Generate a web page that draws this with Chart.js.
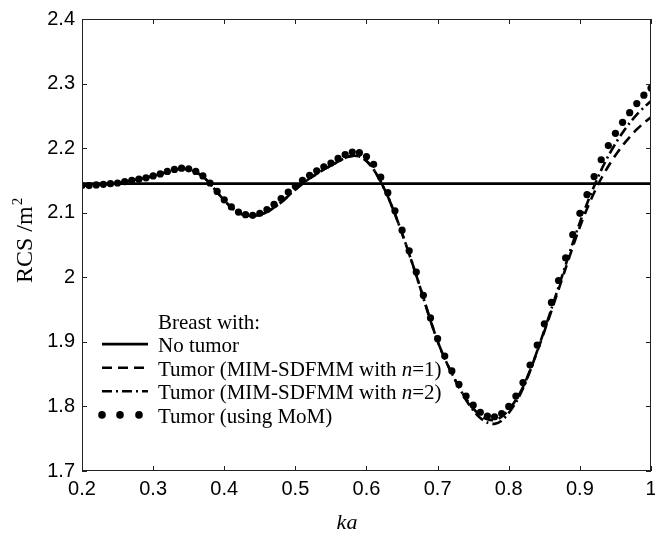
<!DOCTYPE html>
<html><head><meta charset="utf-8">
<script src="https://cdn.jsdelivr.net/npm/chart.js@4/dist/chart.umd.min.js"></script>
<style>html,body{margin:0;padding:0;background:#fff}#wrap{width:655px;height:533px;position:relative}</style>
</head><body><div id="wrap"><canvas id="c"></canvas></div>
<script>
const ka = [0.20,0.21,0.22,0.23,0.24,0.25,0.26,0.27,0.28,0.29,0.30,0.31,0.32,0.33,0.34,0.35,0.36,0.37,0.38,0.39,
0.40,0.41,0.42,0.43,0.44,0.45,0.46,0.47,0.48,0.49,0.50,0.51,0.52,0.53,0.54,0.55,0.56,0.57,0.58,0.59,
0.60,0.61,0.62,0.63,0.64,0.65,0.66,0.67,0.68,0.69,0.70,0.71,0.72,0.73,0.74,0.75,0.76,0.77,0.78,0.79,
0.80,0.81,0.82,0.83,0.84,0.85,0.86,0.87,0.88,0.89,0.90,0.91,0.92,0.93,0.94,0.95,0.96,0.97,0.98,0.99,1.00];
const kaEnds = [0.2, 1.0];
const rcsNoTumor = [2.145, 2.145];
const rcsMoM = [2.142,2.142,2.143,2.144,2.145,2.146,2.148,2.150,2.152,2.154,2.157,2.160,2.164,2.167,2.169,2.168,2.164,2.157,2.146,2.133,
2.120,2.109,2.101,2.097,2.096,2.099,2.105,2.113,2.122,2.132,2.141,2.150,2.158,2.165,2.171,2.177,2.184,2.190,2.194,2.193,
2.187,2.175,2.155,2.131,2.103,2.073,2.041,2.008,1.972,1.937,1.905,1.878,1.855,1.834,1.816,1.802,1.791,1.785,1.784,1.789,
1.800,1.816,1.837,1.864,1.895,1.928,1.961,1.995,2.030,2.066,2.099,2.128,2.156,2.182,2.204,2.223,2.240,2.255,2.269,2.282,2.293];
const rcsN1 = [2.142,2.142,2.143,2.144,2.145,2.146,2.148,2.150,2.152,2.154,2.157,2.160,2.163,2.166,2.168,2.167,2.163,2.156,2.145,2.132,
2.119,2.108,2.100,2.096,2.095,2.097,2.101,2.108,2.116,2.126,2.136,2.145,2.153,2.160,2.167,2.173,2.179,2.185,2.188,2.187,
2.180,2.167,2.148,2.125,2.098,2.068,2.036,2.003,1.968,1.933,1.901,1.874,1.851,1.830,1.812,1.797,1.786,1.780,1.779,1.784,
1.795,1.810,1.830,1.856,1.885,1.916,1.948,1.981,2.014,2.047,2.078,2.106,2.131,2.153,2.172,2.189,2.204,2.217,2.229,2.239,2.248];
const rcsN2 = [2.142,2.142,2.143,2.144,2.145,2.146,2.148,2.150,2.152,2.154,2.157,2.160,2.163,2.166,2.168,2.167,2.163,2.156,2.145,2.132,
2.119,2.108,2.100,2.096,2.095,2.097,2.101,2.108,2.116,2.126,2.136,2.145,2.153,2.160,2.167,2.173,2.179,2.185,2.188,2.187,
2.180,2.167,2.148,2.125,2.098,2.068,2.036,2.003,1.968,1.933,1.901,1.874,1.851,1.830,1.810,1.794,1.782,1.775,1.773,1.778,
1.790,1.806,1.828,1.855,1.886,1.918,1.951,1.985,2.019,2.053,2.085,2.114,2.141,2.166,2.188,2.207,2.224,2.239,2.252,2.263,2.273];
const xTicks = [0.2,0.3,0.4,0.5,0.6,0.7,0.8,0.9,1.0];
const yTicks = [1.7,1.8,1.9,2.0,2.1,2.2,2.3,2.4];
const legendTitle = "Breast with:";
const legendLabels = ["No tumor", "Tumor (MIM-SDFMM with |n|=1)", "Tumor (MIM-SDFMM with |n|=2)", "Tumor (using MoM)"];
const xTitle = "ka";
const yTitle = "RCS /m";
const yTitleSup = "2";

const pts = (xs, ys) => xs.map((x, i) => ({x: x, y: ys[i]}));
const fmt = v => String(Number(v.toFixed(1)));
const DASH = [10, 6];
const DASHDOT = [10, 4, 2, 4];

const boxPlugin = {
  id: 'box',
  afterDraw(chart) {
    const ctx = chart.ctx, a = chart.chartArea;
    const xs = chart.scales.x, ys = chart.scales.y;
    ctx.save();
    ctx.strokeStyle = '#222'; ctx.lineWidth = 1;
    ctx.strokeRect(a.left + 0.5, a.top + 0.5, a.right - a.left - 1, a.bottom - a.top - 1);
    ctx.beginPath();
    const tl = 5;
    xTicks.forEach(v => {
      const p = Math.round(xs.getPixelForValue(v)) + 0.5;
      ctx.moveTo(p, a.bottom); ctx.lineTo(p, a.bottom - tl);
      ctx.moveTo(p, a.top); ctx.lineTo(p, a.top + tl);
    });
    yTicks.forEach(v => {
      const p = Math.round(ys.getPixelForValue(v)) + 0.5;
      ctx.moveTo(a.left, p); ctx.lineTo(a.left + tl, p);
      ctx.moveTo(a.right, p); ctx.lineTo(a.right - tl, p);
    });
    ctx.stroke();

    // legend
    const lx0 = 102, lx1 = 148, tx = 158, row0 = 320.5, dy = 23.6;
    ctx.fillStyle = '#000'; ctx.strokeStyle = '#000';
    ctx.textBaseline = 'alphabetic'; ctx.textAlign = 'left';
    const serif = '"Liberation Serif", "Times New Roman", serif';
    ctx.font = '21px ' + serif;
    ctx.fillText(legendTitle, tx, row0 + 8);
    const styles = [[], DASH, DASHDOT, null];
    legendLabels.forEach((lab, i) => {
      const y = row0 + dy * (i + 1);
      if (styles[i] === null) {
        [lx0, (lx0 + lx1) / 2 - 5, lx1 - 9].forEach(cx => {
          ctx.beginPath(); ctx.arc(cx, y, 3.8, 0, Math.PI * 2); ctx.fill();
        });
      } else {
        ctx.beginPath(); ctx.lineWidth = 2.6; ctx.setLineDash(styles[i]);
        ctx.moveTo(lx0, y); ctx.lineTo(lx1, y); ctx.stroke(); ctx.setLineDash([]);
      }
      const parts = lab.split('|');
      let x = tx;
      parts.forEach((part, j) => {
        ctx.font = (j === 1 ? 'italic ' : '') + '21px ' + serif;
        ctx.fillText(part, x, y + 8);
        x += ctx.measureText(part).width;
      });
    });

    // axis titles
    ctx.font = 'italic 22px ' + serif;
    ctx.textAlign = 'center';
    ctx.fillText(xTitle, 347, 529);
    ctx.save();
    ctx.translate(32, 283);
    ctx.rotate(-Math.PI / 2);
    ctx.textAlign = 'left';
    ctx.font = '24px ' + serif;
    ctx.fillText(yTitle, 0, 0);
    const w = ctx.measureText(yTitle).width;
    ctx.font = '15px ' + serif;
    ctx.fillText(yTitleSup, w + 1, -10);
    ctx.restore();
    ctx.restore();
  }
};

new Chart(document.getElementById('c'), {
  type: 'line',
  data: {
    datasets: [
      {label: 'No tumor', data: pts(kaEnds, rcsNoTumor), borderColor: '#000', borderWidth: 2.6, pointRadius: 0, order: 4},
      {label: 'n1', data: pts(ka, rcsN1), borderColor: '#000', borderWidth: 2.6, borderDash: DASH, pointRadius: 0, tension: 0.3, order: 3},
      {label: 'n2', data: pts(ka, rcsN2), borderColor: '#000', borderWidth: 2.6, borderDash: DASHDOT, pointRadius: 0, tension: 0.3, order: 2},
      {label: 'MoM', data: pts(ka, rcsMoM), showLine: false, pointRadius: 3.6, pointBackgroundColor: '#000', pointBorderColor: '#000', pointBorderWidth: 0, order: 1}
    ]
  },
  options: {
    responsive: true, maintainAspectRatio: false, animation: false, devicePixelRatio: 1,
    layout: {padding: {top: 19, right: 1, left: 0, bottom: 0}},
    plugins: {legend: {display: false}, tooltip: {enabled: false}},
    scales: {
      x: {
        type: 'linear', min: 0.2, max: 1.0,
        grid: {display: false, drawTicks: false},
        border: {display: false},
        afterBuildTicks: s => { s.ticks = xTicks.map(v => ({value: v})); },
        afterFit: s => { s.height = 62; s.paddingLeft = 0; s.paddingRight = 0; },
        ticks: {padding: 6, color: '#000', font: {family: '"Liberation Sans", Arial, sans-serif', size: 20}, callback: v => fmt(v), maxRotation: 0, autoSkip: false}
      },
      y: {
        type: 'linear', min: 1.7, max: 2.4,
        grid: {display: false, drawTicks: false},
        border: {display: false},
        afterBuildTicks: s => { s.ticks = yTicks.map(v => ({value: v})); },
        afterFit: s => { s.width = 82; s.paddingTop = 0; s.paddingBottom = 0; },
        ticks: {padding: 7, color: '#000', font: {family: '"Liberation Sans", Arial, sans-serif', size: 20}, callback: v => fmt(v), autoSkip: false}
      }
    }
  },
  plugins: [boxPlugin]
});
</script>
</body></html>
